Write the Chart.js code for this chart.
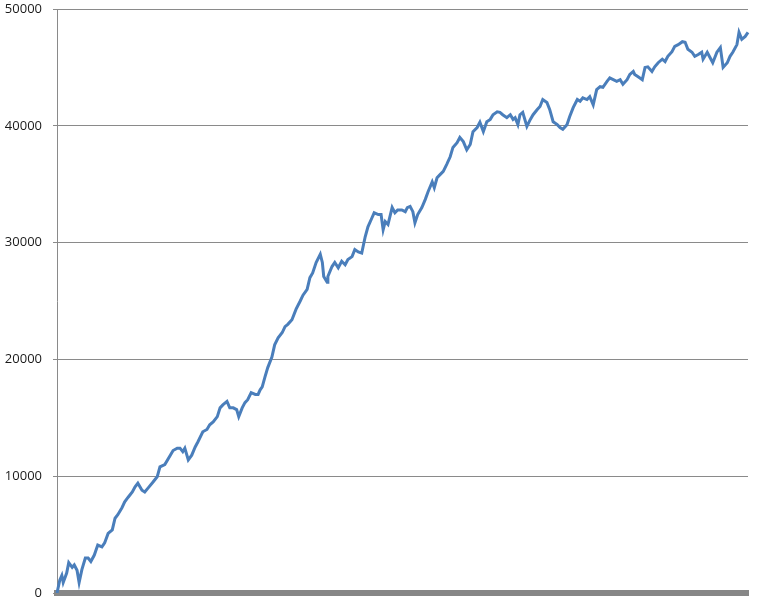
<!DOCTYPE html>
<html>
<head>
<meta charset="utf-8">
<script src="https://cdn.jsdelivr.net/npm/chart.js@4.4.1/dist/chart.umd.min.js"></script>
<style>
  html, body { margin: 0; padding: 0; background: #ffffff; }
  #wrap { width: 765px; height: 600px; }
</style>
</head>
<body>
<div id="wrap"><canvas id="c" width="765" height="600"></canvas></div>
<script>
// Trade number (x)
const trades = [
  0, 4, 7, 9, 14, 17, 22, 25, 29, 32, 36, 41, 45, 49, 54, 59, 65, 69, 74, 80,
  84, 88, 94, 98, 103, 109, 113, 117, 123, 127, 132, 139, 145, 149, 156, 164, 168, 174, 178, 182,
  185, 190, 195, 200, 204, 211, 217, 221, 226, 232, 236, 240, 246, 250, 255, 260, 263, 268, 272, 276,
  281, 287, 291, 294, 297, 301, 305, 311, 315, 320, 326, 330, 334, 340, 346, 352, 356, 362, 366, 370,
  375, 381, 384, 386, 391, 392, 398, 402, 407, 412, 417, 421, 427, 431, 436, 441, 446, 450, 456, 459,
  465, 469, 472, 475, 479, 485, 489, 493, 499, 504, 507, 511, 515, 518, 522, 528, 533, 537, 543, 546,
  550, 554, 559, 564, 569, 573, 579, 583, 588, 593, 598, 602, 608, 612, 617, 622, 627, 631, 637, 641,
  645, 651, 656, 660, 663, 667, 670, 674, 680, 685, 689, 695, 699, 703, 709, 713, 718, 724, 728, 732,
  738, 742, 747, 753, 757, 761, 767, 771, 776, 781, 786, 790, 796, 800, 805, 810, 815, 819, 825, 829,
  834, 836, 841, 847, 851, 855, 861, 865, 870, 876, 880, 884, 890, 894, 899, 905, 909, 913, 919, 923,
  928, 933, 935, 941, 945, 949, 955, 960, 964, 970, 974, 978, 984, 987, 991, 996, 1000
];
// Cumulative equity (y)
const equity = [
  0, 1100, 1500, 900, 1700, 2600, 2200, 2400, 1950, 900, 2000, 3000, 3000, 2700, 3250, 4100, 3950, 4300, 5100, 5400,
  6400, 6700, 7300, 7800, 8200, 8650, 9100, 9400, 8800, 8650, 9000, 9500, 9950, 10800, 11000, 11800, 12200, 12400, 12400, 12100,
  12400, 11400, 11800, 12500, 12950, 13800, 14000, 14400, 14650, 15100, 15850, 16100, 16400, 15850, 15850, 15700, 15100, 15850, 16300, 16550,
  17150, 17000, 17000, 17400, 17650, 18500, 19300, 20200, 21250, 21850, 22300, 22800, 23000, 23400, 24300, 25000, 25500, 26000, 27000, 27400,
  28300, 29000, 28300, 27100, 26600, 27100, 27950, 28300, 27850, 28400, 28100, 28550, 28800, 29400, 29200, 29100, 30500, 31350, 32150, 32550,
  32400, 32400, 31100, 31800, 31550, 33000, 32550, 32800, 32800, 32650, 33000, 33100, 32650, 31700, 32400, 33000, 33700, 34350, 35200, 34700,
  35550, 35800, 36100, 36700, 37350, 38150, 38550, 39000, 38650, 37950, 38400, 39500, 39850, 40300, 39500, 40350, 40550, 40950, 41200, 41150,
  40950, 40700, 40950, 40550, 40700, 40100, 40950, 41150, 39950, 40550, 40950, 41400, 41650, 42250, 42000, 41400, 40350, 40100, 39850, 39700,
  40100, 40800, 41550, 42250, 42100, 42400, 42250, 42500, 41800, 43100, 43350, 43300, 43800, 44100, 43950, 43800, 43950, 43550, 43950, 44400,
  44650, 44400, 44200, 43950, 45000, 45050, 44650, 45050, 45400, 45700, 45500, 45950, 46350, 46800, 46950, 47200, 47150, 46550, 46300, 45950,
  46100, 46300, 45700, 46300, 45850, 45400, 46300, 46700, 45000, 45400, 45950, 46300, 46950, 48000, 47400, 47650, 48000
];
// Y tick values
const yTicks = [0, 10000, 20000, 30000, 40000, 50000];

const points = trades.map((t, i) => ({ x: t, y: equity[i] }));

new Chart(document.getElementById('c'), {
  type: 'line',
  data: {
    datasets: [{
      data: points,
      borderColor: '#4a7ebb',
      borderWidth: 3,
      pointRadius: 0,
      tension: 0,
      fill: false,
      clip: false
    }]
  },
  options: {
    responsive: false,
    animation: false,
    layout: { padding: { left: 0, right: 17, top: 0, bottom: 0 } },
    plugins: { legend: { display: false }, tooltip: { enabled: false } },
    scales: {
      x: {
        type: 'linear',
        min: 0,
        max: 1000,
        ticks: { display: false },
        grid: { display: false },
        border: { display: true, width: 6, color: '#878787' },
        afterFit: s => { s.height = 0; s.paddingLeft = 0; s.paddingRight = 0; }
      },
      y: {
        min: yTicks[0],
        max: yTicks[yTicks.length - 1],
        afterBuildTicks: s => { s.ticks = yTicks.map(v => ({ value: v })); },
        ticks: {
          color: '#1a1a1a',
          font: { family: 'Open Sans', size: 13 },
          padding: 11,
          callback: v => String(v)
        },
        grid: { color: '#8a8a8a', lineWidth: 1, tickLength: 4, drawTicks: true },
        border: { display: true, color: '#8a8a8a', width: 1 },
        afterFit: s => { s.width = 57; s.paddingTop = 9; s.paddingBottom = 7; }
      }
    }
  }
});
</script>
</body>
</html>
